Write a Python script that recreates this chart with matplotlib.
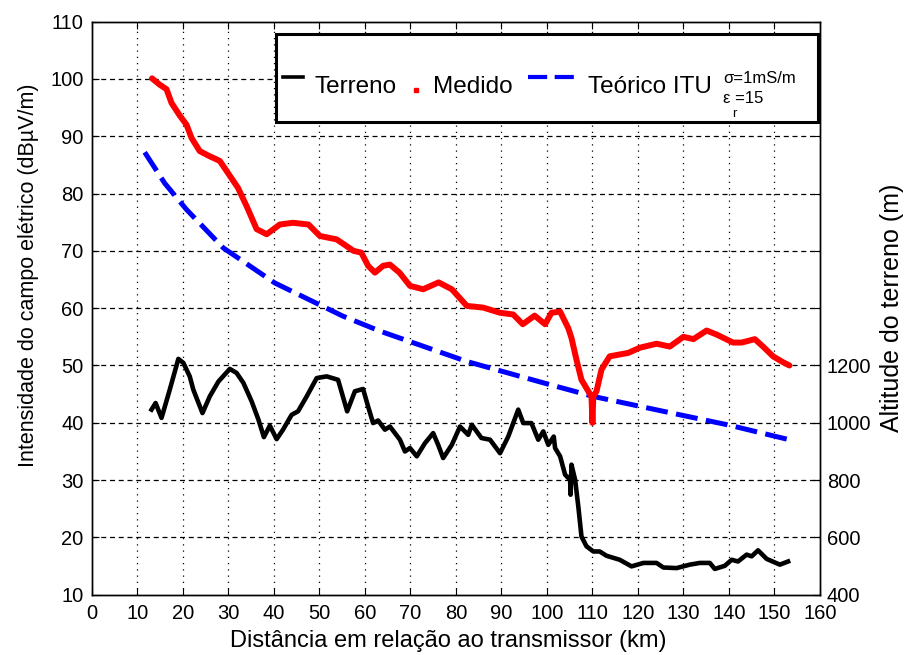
import matplotlib
matplotlib.use("Agg")
import matplotlib.pyplot as plt
from matplotlib.lines import Line2D
from matplotlib.patches import Rectangle

plt.rcParams['font.family'] = ['Liberation Sans', 'DejaVu Sans']

# measured field strength (dBuV/m)
dist_med = [13.2, 14.9, 16.4, 17.5, 19.4, 20.8, 21.9, 23.7, 25.9, 28.1, 30.4, 32.1,
            34.0, 36.2, 38.4, 41.3, 44.2, 47.6, 50.1, 53.8, 57.5, 59.2, 60.7, 62.2,
            64.0, 65.5, 67.6, 69.9, 72.8, 76.2, 79.1, 82.4, 86.0, 89.7, 92.6, 94.7,
            97.3, 99.6, 101.0, 102.9, 104.7, 105.4, 106.5, 107.6, 109.1, 109.8, 110.0,
            110.2, 110.9, 112.0, 113.8, 117.9, 120.4, 124.1, 127.0, 130.0, 132.2,
            135.1, 137.3, 140.9, 142.8, 145.7, 147.5, 149.7, 151.6, 153.3]
campo_med = [100.1, 99.0, 98.2, 95.8, 93.5, 92.0, 89.7, 87.4, 86.5, 85.7, 83.0, 81.0,
             77.8, 73.8, 72.9, 74.6, 74.9, 74.6, 72.6, 72.0, 70.0, 69.7, 67.4, 66.2,
             67.4, 67.6, 66.2, 63.9, 63.3, 64.5, 63.3, 60.4, 60.1, 59.2, 58.9, 57.2,
             58.7, 57.2, 59.2, 59.4, 56.5, 54.8, 51.0, 47.5, 45.5, 44.6, 40.0,
             44.6, 45.5, 49.3, 51.6, 52.2, 53.1, 53.8, 53.3, 55.0, 54.6,
             56.1, 55.4, 54.0, 54.0, 54.6, 53.3, 51.6, 50.7, 50.0]

# theoretical ITU curve (dBuV/m)
dist_itu = [11.6, 16.0, 20.8, 28.9, 40.2, 55.2, 63.3, 82.4, 100.0, 110.2, 129.2, 140.0, 153.0]
campo_itu = [87.2, 81.8, 77.2, 70.5, 64.4, 58.6, 56.0, 50.7, 46.8, 44.6, 41.4, 39.6, 37.1]

# terrain altitude (m)
dist_ter = [13.1, 14.0, 15.3, 17.1, 19.0, 20.1, 21.5, 22.3, 24.3, 25.9, 27.8, 30.3,
            31.8, 33.3, 35.1, 36.6, 37.8, 39.1, 40.6, 42.0, 43.9, 45.3, 47.2, 49.4,
            51.6, 54.1, 56.1, 57.8, 59.6, 60.7, 61.8, 62.9, 64.4, 65.5, 67.7, 68.8,
            69.9, 71.4, 73.2, 75.0, 76.1, 77.2, 79.1, 80.9, 82.7, 83.5, 85.6, 87.5,
            89.7, 91.5, 93.7, 94.8, 96.6, 98.1, 99.2, 100.3, 101.5, 101.8, 102.9,
            104.0, 105.1, 105.2, 105.4, 106.2, 106.9, 107.6, 108.7, 110.2, 111.6,
            113.1, 116.0, 118.6, 121.2, 124.1, 125.6, 128.5, 131.4, 133.6, 135.8,
            136.9, 139.1, 140.6, 142.0, 143.9, 145.0, 146.4, 148.3, 151.2, 153.0]
alt_ter = [1046, 1069, 1017, 1115, 1223, 1209, 1162, 1115, 1034, 1092, 1144, 1188,
           1174, 1139, 1075, 1011, 950, 990, 943, 976, 1028, 1040, 1092, 1156,
           1162, 1150, 1040, 1110, 1118, 1057, 999, 1008, 976, 987, 941, 900,
           912, 883, 929, 964, 923, 877, 923, 987, 958, 993, 947, 941,
           894, 952, 1046, 999, 999, 941, 970, 923, 952, 912, 883,
           819, 801, 749, 854, 801, 708, 603, 569, 551, 551,
           536, 522, 499, 511, 511, 495, 493, 505, 511, 511,
           490, 501, 522, 516, 540, 534, 555, 525, 505, 516]

blue = '#0000ff'
red = '#ff0000'
itu_dashes = (4.4, 1.7)

fig = plt.figure(figsize=(9.1, 6.55), dpi=100)
ax = fig.add_axes([0.101, 0.092, 0.800, 0.875])
ax2 = ax.twinx()

ax.plot(dist_itu, campo_itu, color=blue, lw=3.6, dashes=itu_dashes, zorder=3)
ax.plot(dist_med, campo_med, color=red, lw=4.3, zorder=4,
        solid_joinstyle='round', solid_capstyle='round')
ax2.plot(dist_ter, alt_ter, color='black', lw=3.3, solid_joinstyle='round')

ax.set_xlim(0, 160)
ax.set_ylim(10, 110)
ax.set_xticks(range(0, 161, 10))
ax.set_yticks(range(10, 111, 10))
ax2.set_ylim(400, 2400)
ax2.set_yticks([400, 600, 800, 1000, 1200])

for x in range(10, 160, 10):
    ax.axvline(x, color='black', lw=0.9, ls=(0, (1, 4)), zorder=1)
for y in range(20, 110, 10):
    ax.axhline(y, color='black', lw=0.9, ls=(0, (4, 3)), zorder=1)

ax.tick_params(axis='x', direction='in', top=True, labelsize=14.5, length=5, width=0.8, pad=7)
ax.tick_params(axis='y', direction='in', right=True, labelsize=14.5, length=5, width=0.8, pad=6)
ax2.tick_params(direction='in', labelsize=14.5, length=5, width=0.8, pad=5)
for a in (ax, ax2):
    for s in a.spines.values():
        s.set_linewidth(1.0)

ax.set_xlabel('Distância em relação ao transmissor (km)', fontsize=17)
ax.xaxis.set_label_coords(0.49, -0.062)
ax.set_ylabel('Intensidade do campo elétrico (dBµV/m)', fontsize=15.5)
ax.yaxis.set_label_coords(-0.073, 0.557)
ax2.set_ylabel('Altitude do terreno (m)', fontsize=18)
ax2.yaxis.set_label_coords(1.083, 0.5)

# legend box drawn by hand to match the original layout
T = ax.transAxes
ax.add_patch(Rectangle((0.2527, 0.8255), 0.7446, 0.1535, transform=T,
                       facecolor='white', edgecolor='black', lw=2.2, zorder=10))
ax.add_line(Line2D([0.2624, 0.2898], [0.904, 0.904], transform=T, color='black',
                   lw=2.6, zorder=11))
ax.add_line(Line2D([0.445], [0.8805], transform=T, color=red, marker='s',
                   markersize=3, ls='none', zorder=11))
ax.add_line(Line2D([0.5989, 0.6662], [0.904, 0.904], transform=T, color=blue,
                   lw=3.0, dashes=(4.6, 1.8), zorder=11))
kw = dict(transform=T, va='baseline', ha='left', zorder=12)
ax.text(0.3063, 0.876, 'Terreno', fontsize=17.5, **kw)
ax.text(0.4684, 0.876, 'Medido', fontsize=17.5, **kw)
ax.text(0.6813, 0.876, 'Teórico ITU', fontsize=17.5, **kw)
ax.text(0.8668, 0.8935, 'σ=1mS/m', fontsize=12, **kw)
ax.text(0.8668, 0.8586, 'ε =15', fontsize=12, **kw)
ax.text(0.8790, 0.8342, 'r', fontsize=9.5, **kw)

fig.savefig('out.png', dpi=100)
